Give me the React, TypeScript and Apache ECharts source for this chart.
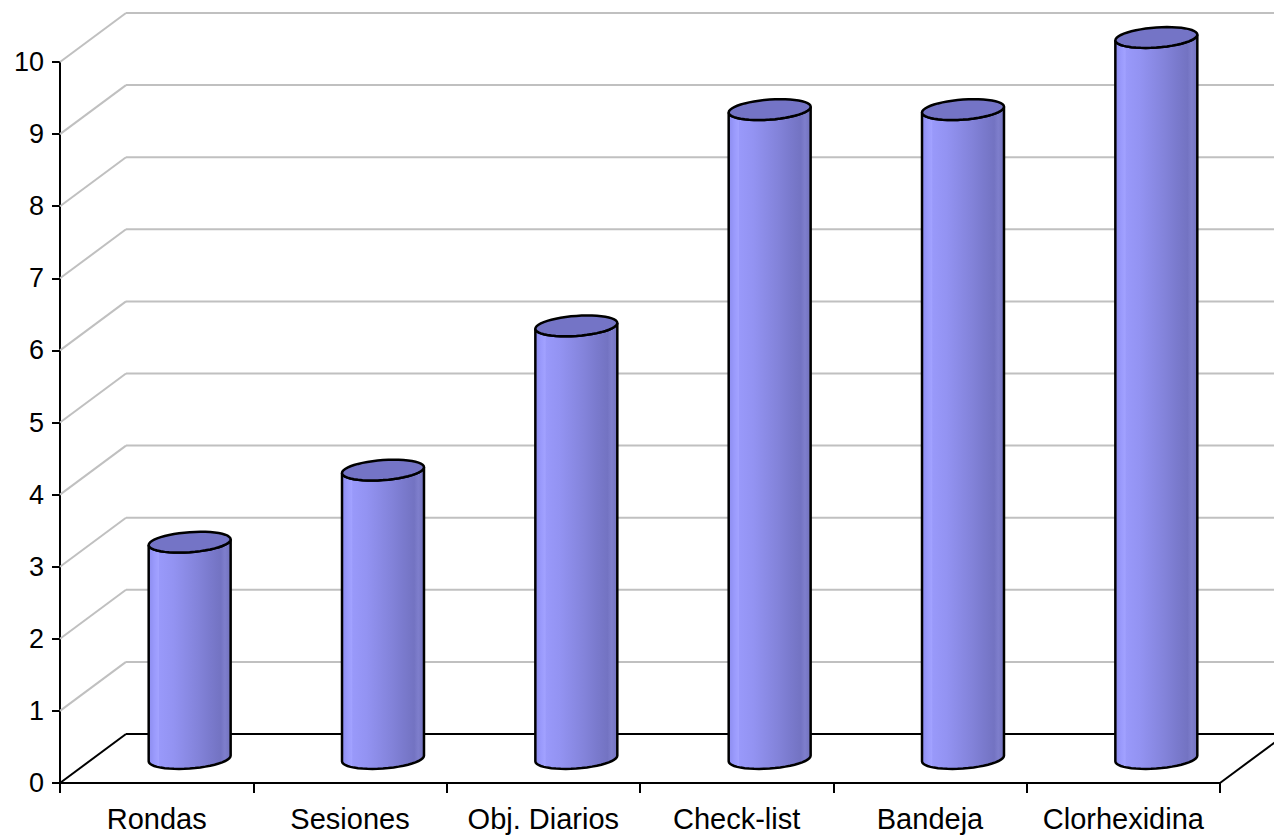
import React, { useEffect, useRef } from "react";
import * as echarts from "echarts";

const categories = ["Rondas", "Sesiones", "Obj. Diarios", "Check-list", "Bandeja", "Clorhexidina"];
const values = [3, 4, 6, 9, 9, 10];
const yTickLevels = [0, 1, 2, 3, 4, 5, 6, 7, 8, 9, 10];

const DX = 66;
const DY = -49;
const FONT = "'Liberation Sans', Arial, sans-serif";

function ellipsePts(cx: number, cy: number, a: number, b: number, s: number, t0: number, t1: number, n: number) {
  const pts: number[][] = [];
  for (let k = 0; k <= n; k++) {
    const t = t0 + ((t1 - t0) * k) / n;
    const x = a * Math.cos(t);
    const y = b * Math.sin(t) - s * x;
    pts.push([cx + x, cy + y]);
  }
  return pts;
}

export default function App() {
  const ref = useRef<HTMLDivElement>(null);
  useEffect(() => {
    if (!ref.current) return;
    const chart = echarts.init(ref.current, null, { renderer: "svg" });
    const bodyFill = new echarts.graphic.LinearGradient(0, 0, 1, 0, [
      { offset: 0, color: "#8C8CEE" },
      { offset: 0.07, color: "#9A9AFC" },
      { offset: 0.12, color: "#A2A2FF" },
      { offset: 0.13, color: "#9999FA" },
      { offset: 0.3, color: "#9393F2" },
      { offset: 0.45, color: "#8B8BE6" },
      { offset: 0.6, color: "#8383DA" },
      { offset: 0.75, color: "#7A7ACD" },
      { offset: 0.88, color: "#7373C2" },
      { offset: 0.93, color: "#7E7ECC" },
      { offset: 1, color: "#7272BE" },
    ]);
    const option: any = {
      animation: false,
      backgroundColor: "#ffffff",
      grid: { left: 60, right: 54, top: 62, bottom: 54, containLabel: false },
      xAxis: {
        type: "category",
        data: categories,
        boundaryGap: true,
        axisLine: { show: true, lineStyle: { color: "#000", width: 2 } },
        axisTick: { show: true, interval: 0, length: 10, lineStyle: { color: "#000", width: 2 } },
        axisLabel: { interval: 0, color: "#000", fontSize: 29, fontFamily: FONT, margin: 21 },
        splitLine: { show: false },
      },
      yAxis: {
        type: "value",
        min: 0,
        max: 10,
        interval: 1,
        axisLine: { show: true, lineStyle: { color: "#000", width: 2 } },
        axisTick: { show: true, length: 8, lineStyle: { color: "#000", width: 2 } },
        axisLabel: { color: "#000", fontSize: 27, fontFamily: FONT, margin: 16 },
        splitLine: { show: false },
      },
      series: [
        {
          type: "custom",
          name: "walls",
          silent: true,
          z: 1,
          data: yTickLevels.map((v) => [0, v]),
          renderItem: (params: any, api: any) => {
            const v = api.value(1);
            const p = api.coord([0, v]);
            const bw = api.size([1, 0])[0];
            const x0 = p[0] - bw / 2;
            const w = api.getWidth();
            const color = v === 0 ? "#000" : "#C0C0C0";
            const children: any[] = [
              { type: "line", shape: { x1: x0, y1: p[1], x2: x0 + DX, y2: p[1] + DY }, style: { stroke: color, lineWidth: 2 } },
              { type: "line", shape: { x1: x0 + DX, y1: p[1] + DY, x2: w, y2: p[1] + DY }, style: { stroke: color, lineWidth: 2 } },
            ];
            if (v === 0) {
              const xr = api.coord([categories.length - 1, 0])[0] + bw / 2;
              children.push({ type: "line", shape: { x1: xr, y1: p[1], x2: xr + DX, y2: p[1] + DY }, style: { stroke: "#000", lineWidth: 2 } });
            }
            return { type: "group", children };
          },
        },
        {
          type: "custom",
          name: "cylinders",
          z: 2,
          data: values.map((v, i) => [i, v]),
          renderItem: (params: any, api: any) => {
            const i = api.value(0);
            const v = api.value(1);
            const p = api.coord([i, v]);
            const base = api.coord([i, 0]);
            const bw = api.size([1, 0])[0];
            const a = bw * 0.212;
            const b = 10;
            const s = 0.07;
            const cx = p[0] + DX / 2;
            const topY = p[1] + DY / 2;
            const botY = base[1] + DY / 2;
            const topFront = ellipsePts(cx, topY, a, b, s, Math.PI, 0, 24);
            const botFront = ellipsePts(cx, botY, a, b, s, 0, Math.PI, 24);
            const body = topFront.concat(botFront);
            const topAll = ellipsePts(cx, topY, a, b, s, 0, Math.PI * 2, 48);
            return {
              type: "group",
              children: [
                { type: "polygon", shape: { points: body }, style: { fill: bodyFill, stroke: "#000", lineWidth: 2.5 } },
                { type: "polygon", shape: { points: topAll }, style: { fill: "#7474C6", stroke: "#000", lineWidth: 2.5 } },
              ],
            };
          },
        },
      ],
    };
    chart.setOption(option);
    return () => chart.dispose();
  }, []);
  return <div ref={ref} style={{ position: "fixed", left: 0, top: 0, width: 1274, height: 837 }} />;
}
